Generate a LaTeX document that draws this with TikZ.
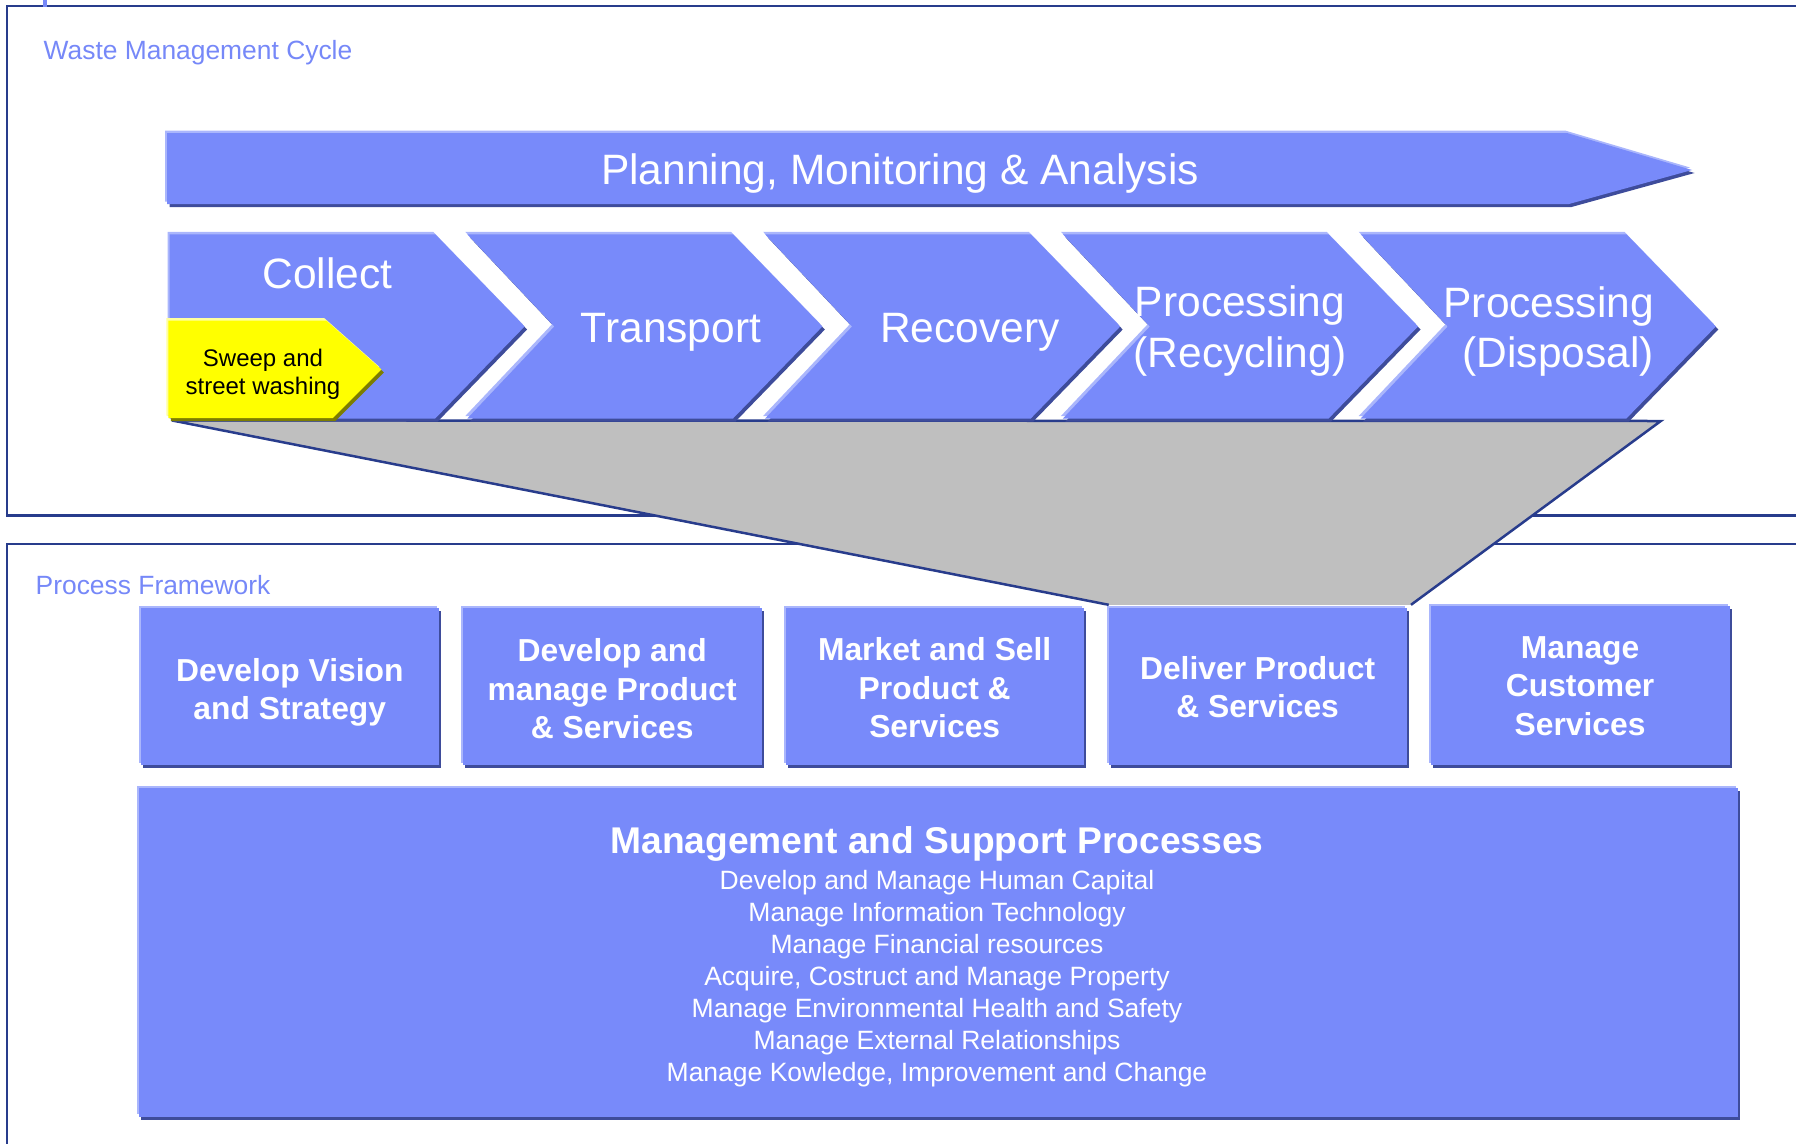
\documentclass[tikz,border=0pt]{standalone}
\usepackage{fontspec}
\setmainfont{Liberation Sans}
\definecolor{mblue}{RGB}{120,138,250}
\definecolor{mlight}{RGB}{170,182,252}
\definecolor{mdark}{RGB}{62,76,155}
\definecolor{frameblue}{RGB}{40,60,140}
\definecolor{titleblue}{RGB}{118,136,248}
\definecolor{fgrey}{RGB}{191,191,191}
\definecolor{tagyellow}{RGB}{255,255,0}
\definecolor{tagdark}{RGB}{125,125,0}
\definecolor{taglight}{RGB}{255,255,160}
\newcommand\bevelfill[4]{%
  \fill[#2,shift={(2.5,3)}] #4;
  \fill[#3,shift={(-2,-2.5)}] #4;
  \fill[#1] #4;}
\tikzset{
  lbl/.style={inner sep=0pt, align=center, text=white},
  chevtxt/.style={lbl, font=\fontsize{42.5}{51.5}\selectfont},
  boxtxt/.style={lbl, font=\fontsize{31.8}{38.4}\selectfont\bfseries},
  sectitle/.style={inner sep=0pt, anchor=west, text=titleblue, font=\fontsize{26.4}{30}\selectfont},
  frameline/.style={draw=frameblue, line width=2.6pt},
}
\begin{document}
\begin{tikzpicture}[x=1pt,y=-1pt]
\useasboundingbox (0,0) rectangle (1796,1143);
\clip (0,0) rectangle (1796,1143);
% frames
\draw[frameline] (6.9,5.9) rectangle (1820,515.4);
\draw[frameline] (6.9,544) rectangle (1820,1170);
\draw[titleblue, line width=4pt] (45,0) -- (45,6.5);
\node[sectitle] (wmc) at (43.5,53) {Waste Management Cycle};
\node[sectitle] (pf) at (35.5,585) {Process Framework};
% funnel
\coordinate (fTL) at (171.8,420.4);
\coordinate (fTR) at (1660.8,421);
\coordinate (fBR) at (1411,604.8);
\coordinate (fBL) at (1108.7,604.8);
\fill[fgrey] (fTL) -- (fTR) -- (fBR) -- (fBL) -- cycle;
\draw[frameblue, line width=2.5pt, line join=miter] (fBL) -- (fTL) -- (fTR) -- (fBR);
% planning banner
\bevelfill{mblue}{mdark}{mlight}{(167.2,133) -- (1567,133) -- (1692,170) -- (1569,204) -- (167.2,204) -- cycle}
\node[chevtxt] (plan) at (900,174) {Planning, Monitoring \& Analysis};
% chevrons
\bevelfill{mblue}{mdark}{mlight}{(169.5,234.3) -- (435.2,234.3) -- (524.6,326.5) -- (435.2,418.5) -- (169.5,418.5) -- cycle}
\bevelfill{mblue}{mdark}{mlight}{(467.3,234.3) -- (733.0,234.3) -- (822.4,326.5) -- (733.0,418.5) -- (467.3,418.5) -- (554.3,326.5) -- cycle}
\bevelfill{mblue}{mdark}{mlight}{(765.1,234.3) -- (1030.8,234.3) -- (1120.2,326.5) -- (1030.8,418.5) -- (765.1,418.5) -- (852.1,326.5) -- cycle}
\bevelfill{mblue}{mdark}{mlight}{(1062.9,234.3) -- (1328.6,234.3) -- (1418.0,326.5) -- (1328.6,418.5) -- (1062.9,418.5) -- (1149.9,326.5) -- cycle}
\bevelfill{mblue}{mdark}{mlight}{(1360.7,234.3) -- (1626.4,234.3) -- (1715.8,326.5) -- (1626.4,418.5) -- (1360.7,418.5) -- (1447.7,326.5) -- cycle}
\node[chevtxt] (collect) at (327.6,273) {Collect};
\node[chevtxt] (transport) at (671,332) {Transport};
\node[chevtxt] (recovery) at (970,332) {Recovery};
\node[chevtxt] (recycling) at (1240,331) {Processing\\(Recycling)};
\node[chevtxt, anchor=east, align=right, font=\fontsize{42.5}{50}\selectfont] (disposal) at (1654,332) {Processing\\(Disposal)};
% yellow tag
\bevelfill{tagyellow}{tagdark}{taglight}{(168.4,320.7) -- (326.4,320.7) -- (381.4,369.4) -- (332.8,418) -- (168.4,418) -- cycle}
\node[inner sep=0pt, align=center, text=black, font=\fontsize{24}{28}\selectfont] (sweep) at (263,374) {Sweep and\\street washing};
% process boxes
\bevelfill{mblue}{mdark}{mlight}{(140.9,608) rectangle (438.7,765)}
\bevelfill{mblue}{mdark}{mlight}{(462.7,608) rectangle (761.7,765)}
\bevelfill{mblue}{mdark}{mlight}{(785.8,608) rectangle (1083.6,765)}
\bevelfill{mblue}{mdark}{mlight}{(1108.7,608) rectangle (1406.5,765)}
\bevelfill{mblue}{mdark}{mlight}{(1430.6,606) rectangle (1729.6,765)}
\node[boxtxt] (vision) at (289.8,692.5) {Develop Vision\\and Strategy};
\node[boxtxt] (devprod) at (612.2,689) {Develop and\\manage Product\\\& Services};
\node[boxtxt] (market) at (934.7,688) {Market and Sell\\Product \&\\Services};
\node[boxtxt] (deliver) at (1257.6,687) {Deliver Product\\\& Services};
\node[boxtxt] (customer) at (1580.1,686) {Manage\\Customer\\Services};
% management box
\bevelfill{mblue}{mdark}{mlight}{(138.6,788) rectangle (1737.6,1116.8)}
\node[lbl, font=\fontsize{37.2}{40}\selectfont\bfseries] (mgmt) at (937,844.4) {Management and Support Processes};
\node[lbl, font=\fontsize{26.5}{32.07}\selectfont] (mgmtlist) at (937,978.7) {Develop and Manage Human Capital\\Manage Information Technology\\Manage Financial resources\\Acquire, Costruct and Manage Property\\Manage Environmental Health and Safety\\Manage External Relationships\\Manage Kowledge, Improvement and Change};
\end{tikzpicture}
\end{document}
